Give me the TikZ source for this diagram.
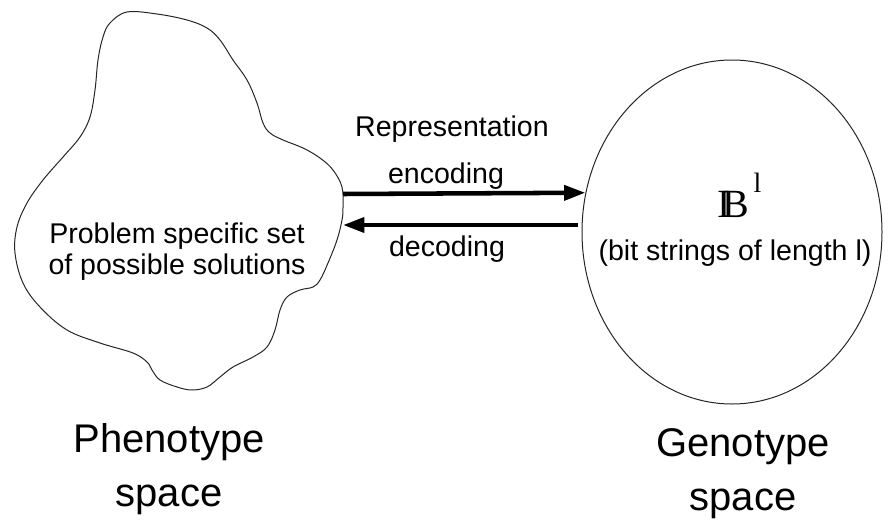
\documentclass[tikz,border=0pt]{standalone}
\usepackage{fontspec}
\setmainfont{Liberation Sans}
\newfontfamily\serifbb{Liberation Serif}
\usetikzlibrary{arrows.meta,shapes.geometric}
\tikzset{
  lbl/.style={font=\fontsize{21.4}{23.25}\selectfont, inner sep=0pt, align=center},
  biglbl/.style={font=\fontsize{30}{40.5}\selectfont, inner sep=0pt, align=center},
  outline/.style={draw=black!85, line width=0.75pt},
  maparrow/.style={line width=3.4pt, line cap=butt, -{Triangle[length=16pt,width=11pt]}},
}
\begin{document}
\begin{tikzpicture}[x=0.75pt, y=-0.75pt, line join=round]
	\useasboundingbox (0,0) rectangle (893,525);
	% phenotype space: irregular blob
	\draw[outline] plot[smooth cycle, tension=0.6] coordinates {
		(127,12) (157,14) (187,20) (207,28) (220,40) (233,60) (247,80) (257,103)
		(263,123) (270,133) (283,140) (303,148) (320,158) (333,170) (342,187)
		(343,207) (342,220) (337,240) (328,263) (320,280) (313,287) (300,290)
		(287,297) (280,310) (275,330) (267,347) (253,357) (233,367) (220,377)
		(207,387) (192,390) (177,387) (160,380) (152,370) (147,362) (133,353)
		(100,343) (67,330) (40,307) (23,283) (15,253) (17,227) (27,203) (43,180)
		(63,157) (80,137) (90,117) (95,90) (98,60) (103,37) (110,23)};
	\node[lbl, anchor=base] (pheno) at (177,274) {Problem specific set\\of possible solutions};
	% genotype space
	\node[outline, ellipse, minimum width=225pt, minimum height=258pt, inner sep=0pt] (geno) at (732,232) {};
	\node[anchor=base west, inner sep=0pt, font=\serifbb\fontsize{30}{30}\selectfont] (bspace) at (717,217)
		{I\kern-0.21em B\kern0.12em\raisebox{18.5pt}{\fontsize{21}{21}\selectfont l}};
	\node[lbl, anchor=base] (bits) at (735,260) {(bit strings of length l)};
	% mappings
	\coordinate (encA) at (343,194);
	\coordinate (decA) at (578,225);
	\coordinate (decB) at (343,225);
	\draw[maparrow] (encA) -- (geno.165);
	\draw[maparrow] (decA) -- (decB);
	\node[lbl, anchor=base] (repr) at (452,136) {Representation};
	\node[lbl, anchor=base] (enc) at (446,183) {encoding};
	\node[lbl, anchor=base] (dec) at (447,256) {decoding};
	% captions
	\node[biglbl, anchor=base] (phcap) at (169,506) {Phenotype\\space};
	\node[biglbl, anchor=base] (gecap) at (743,510) {Genotype\\space};
\end{tikzpicture}
\end{document}
